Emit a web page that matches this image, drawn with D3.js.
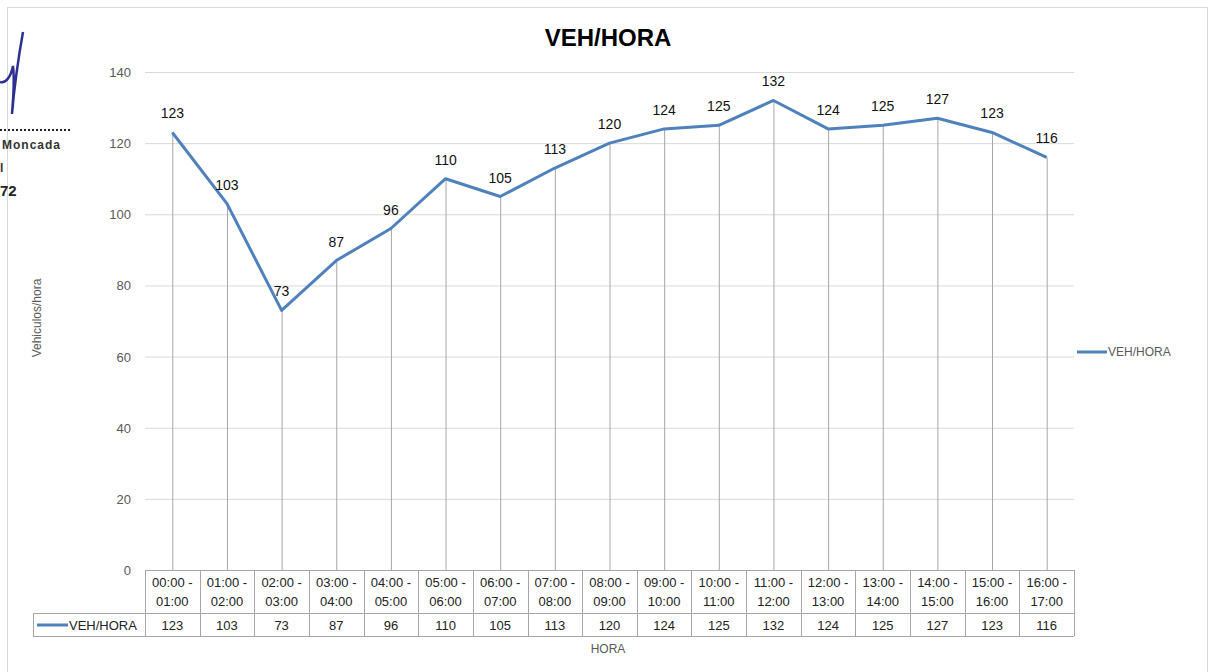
<!DOCTYPE html>
<html>
<head>
<meta charset="utf-8">
<script src="https://cdn.jsdelivr.net/npm/d3@7"></script>
<style>
	body { margin: 0; background: #fff; }
	svg { font-family: "Liberation Sans", Arial, sans-serif; }
</style>
</head>
<body>
<div id="chart"></div>
<script>
const categories = ["00:00 - 01:00", "01:00 - 02:00", "02:00 - 03:00", "03:00 - 04:00", "04:00 - 05:00",
	"05:00 - 06:00", "06:00 - 07:00", "07:00 - 08:00", "08:00 - 09:00", "09:00 - 10:00", "10:00 - 11:00",
	"11:00 - 12:00", "12:00 - 13:00", "13:00 - 14:00", "14:00 - 15:00", "15:00 - 16:00", "16:00 - 17:00"];
const vehHora = [123, 103, 73, 87, 96, 110, 105, 113, 120, 124, 125, 132, 124, 125, 127, 123, 116];
const yTicks = [0, 20, 40, 60, 80, 100, 120, 140];
const seriesName = "VEH/HORA";

(function() {
	const width = 1211, height = 672;
	const left = 145, right = 1074, top = 72, bottom = 570;
	const blue = "#4f81bd", grid = "#d9d9d9", tableLine = "#a6a6a6", axisText = "#595959";

	const svg = d3.select("#chart").append("svg")
		.attr("width", width).attr("height", height);

	// chart frame
	svg.append("rect").attr("x", 7.5).attr("y", 7.5).attr("width", 1200).attr("height", 700)
		.attr("fill", "none").attr("stroke", "#d9d9d9");

	// scanned signature scrap on the left
	const sig = svg.append("g");
	sig.append("path").attr("d", "M0,82 C6,84 11,76 13,66 C15,82 13,98 12,114 C14,90 18,60 23,32")
		.attr("fill", "none").attr("stroke", "#2e3192").attr("stroke-width", 2.5);
	sig.append("line").attr("x1", 0).attr("x2", 70).attr("y1", 130).attr("y2", 130)
		.attr("stroke", "#222").attr("stroke-width", 2).attr("stroke-dasharray", "2,2");
	sig.append("text").attr("x", 2).attr("y", 149).attr("font-size", 12).attr("font-weight", "bold")
		.attr("letter-spacing", 1).attr("fill", "#333").text("Moncada");
	sig.append("text").attr("x", 0).attr("y", 172).attr("font-size", 12).attr("font-weight", "bold")
		.attr("fill", "#333").text("l");
	sig.append("text").attr("x", 0).attr("y", 196).attr("font-size", 15).attr("font-weight", "bold")
		.attr("fill", "#222").text("72");

	const x = d3.scaleBand().domain(categories).range([left, right]);
	const y = d3.scaleLinear().domain([0, 140]).range([bottom, top]);
	const cx = d => x(d) + x.bandwidth() / 2;

	// gridlines
	svg.append("g").selectAll("line").data(yTicks.filter(t => t > 0)).join("line")
		.attr("x1", left).attr("x2", right)
		.attr("y1", d => y(d) + 0.5).attr("y2", d => y(d) + 0.5)
		.attr("stroke", grid);

	// y tick labels
	svg.append("g").selectAll("text").data(yTicks).join("text")
		.attr("x", 131).attr("y", d => y(d) + 5)
		.attr("text-anchor", "end").attr("font-size", 13).attr("fill", axisText)
		.text(d => d);

	// drop lines
	svg.append("g").selectAll("line").data(vehHora).join("line")
		.attr("x1", (d, i) => cx(categories[i]) + 0.5).attr("x2", (d, i) => cx(categories[i]) + 0.5)
		.attr("y1", d => y(d)).attr("y2", bottom)
		.attr("stroke", tableLine);

	// data table
	const rowTop = bottom, rowMid = 613, rowBot = 636, legLeft = 33;
	const tbl = svg.append("g").attr("stroke", tableLine).attr("fill", "none");
	tbl.append("line").attr("x1", left).attr("x2", right).attr("y1", rowTop + 0.5).attr("y2", rowTop + 0.5);
	tbl.append("line").attr("x1", legLeft).attr("x2", right).attr("y1", rowMid + 0.5).attr("y2", rowMid + 0.5);
	tbl.append("line").attr("x1", legLeft).attr("x2", right).attr("y1", rowBot + 0.5).attr("y2", rowBot + 0.5);
	tbl.append("line").attr("x1", legLeft + 0.5).attr("x2", legLeft + 0.5).attr("y1", rowMid).attr("y2", rowBot);
	tbl.selectAll("line.col").data(categories.map(c => x(c)).concat([right])).join("line")
		.attr("class", "col")
		.attr("x1", d => Math.round(d) + 0.5).attr("x2", d => Math.round(d) + 0.5)
		.attr("y1", rowTop).attr("y2", rowBot);

	const hdr = svg.append("g").attr("font-size", 13).attr("fill", "#222").attr("text-anchor", "middle");
	categories.forEach(c => {
		const parts = c.split(" - ");
		hdr.append("text").attr("x", cx(c)).attr("y", 587).text(parts[0] + " -");
		hdr.append("text").attr("x", cx(c)).attr("y", 606).text(parts[1]);
	});
	svg.append("g").selectAll("text").data(vehHora).join("text")
		.attr("x", (d, i) => cx(categories[i])).attr("y", 630)
		.attr("text-anchor", "middle").attr("font-size", 13).attr("fill", "#222")
		.text(d => d);

	// legend key inside table
	svg.append("line").attr("x1", 37).attr("x2", 68).attr("y1", 625).attr("y2", 625)
		.attr("stroke", blue).attr("stroke-width", 3);
	svg.append("text").attr("x", 69).attr("y", 630).attr("font-size", 13).attr("fill", "#222")
		.text(seriesName);

	// series line
	const line = d3.line().x((d, i) => cx(categories[i])).y(d => y(d));
	svg.append("path").datum(vehHora).attr("d", line)
		.attr("fill", "none").attr("stroke", blue).attr("stroke-width", 3)
		.attr("stroke-linejoin", "round");

	// data labels
	svg.append("g").selectAll("text").data(vehHora).join("text")
		.attr("x", (d, i) => cx(categories[i])).attr("y", d => y(d) - 14)
		.attr("text-anchor", "middle").attr("font-size", 14).attr("fill", "#111")
		.text(d => d);

	// titles
	svg.append("text").attr("x", 608).attr("y", 46).attr("text-anchor", "middle")
		.attr("font-size", 24).attr("font-weight", "bold").attr("fill", "#000").text(seriesName);
	svg.append("text").attr("x", 608).attr("y", 653).attr("text-anchor", "middle")
		.attr("font-size", 12).attr("fill", axisText).text("HORA");
	svg.append("text").attr("transform", "translate(41,318) rotate(-90)").attr("text-anchor", "middle")
		.attr("font-size", 12).attr("fill", axisText).text("Vehiculos/hora");

	// right legend
	svg.append("line").attr("x1", 1077).attr("x2", 1107).attr("y1", 352).attr("y2", 352)
		.attr("stroke", blue).attr("stroke-width", 3);
	svg.append("text").attr("x", 1108).attr("y", 356).attr("font-size", 12).attr("fill", axisText)
		.text(seriesName);
})();
</script>
</body>
</html>
